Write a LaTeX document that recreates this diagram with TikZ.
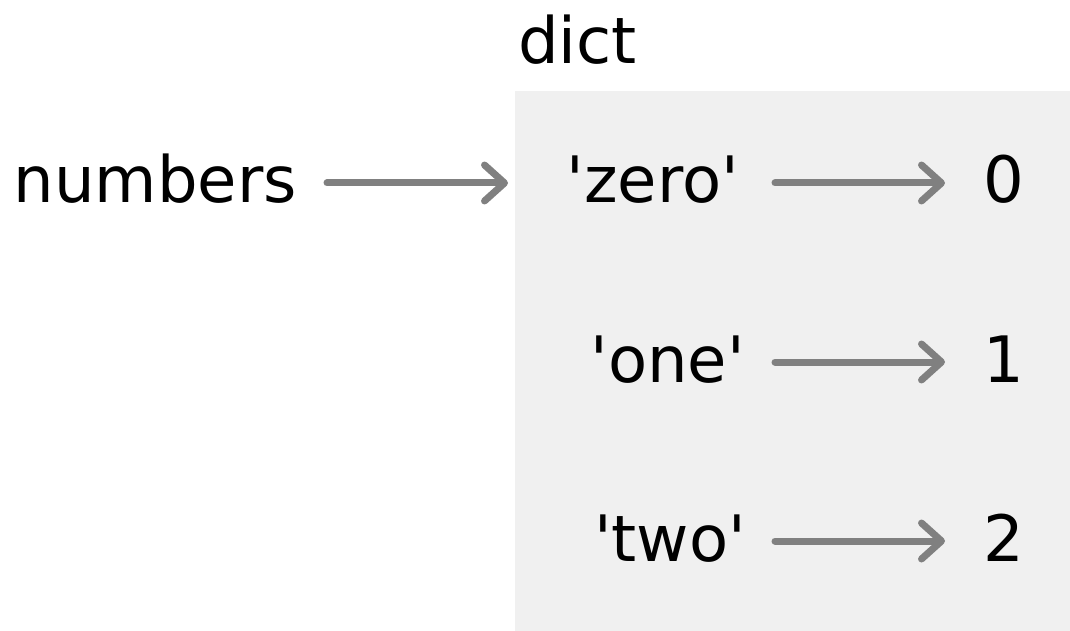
\documentclass[tikz,border=0pt]{standalone}
\usepackage{fontspec}
\setmainfont{DejaVu Sans}
\usetikzlibrary{arrows.meta}
\newcommand{\sq}{\textquotesingle}
\begin{document}
\begin{tikzpicture}[x=1pt,y=-1pt,
  lbl/.style={inner sep=0pt, text height=40pt, text depth=0pt,
    font=\fontsize{64}{76}\selectfont, text=black},
  ref/.style={draw=black!50, line width=7pt, line cap=round,
    -{Straight Barb[length=20pt,width=36pt,round]}}]
  \useasboundingbox (0,0) rectangle (1070,631);
  % the dict frame
  \node[fill=black!6, draw=none, minimum width=555pt, minimum height=540pt,
        inner sep=0pt, anchor=north west] (dictbox) at (515,91) {};
  \node[lbl, anchor=base west] (dictlbl) at (518,64) {dict};
  % variable
  \node[lbl, anchor=base east] (var) at (297,203) {numbers};
  % keys and values
  \node[lbl, anchor=base east] (k0) at (739,203) {\sq zero\sq};
  \node[lbl, anchor=base west] (v0) at (983,203) {0};
  \node[lbl, anchor=base east] (k1) at (745,382) {\sq one\sq};
  \node[lbl, anchor=base west] (v1) at (983,382) {1};
  \node[lbl, anchor=base east] (k2) at (746,561) {\sq two\sq};
  \node[lbl, anchor=base west] (v2) at (983,561) {2};
  % references
  \draw[ref, shorten <=30pt, shorten >=7pt] (var.east) -- (var.east -| dictbox.west);
  \draw[ref, shorten <=36pt, shorten >=38pt] (k0.east) -- (k0.east -| v0.west);
  \draw[ref, shorten <=30pt, shorten >=38pt] (k1.east) -- (k1.east -| v1.west);
  \draw[ref, shorten <=29pt, shorten >=38pt] (k2.east) -- (k2.east -| v2.west);
\end{tikzpicture}
\end{document}
